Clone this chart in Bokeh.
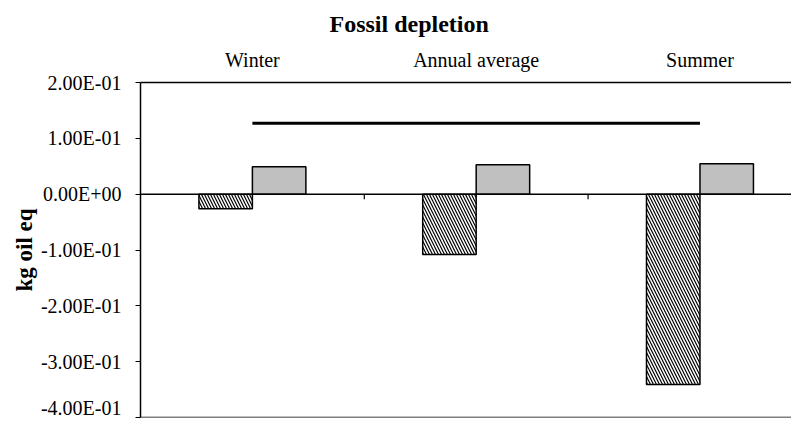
import numpy as np
from bokeh.plotting import figure
from bokeh.models import (Range1d, FixedTicker, Span, Title)
from bokeh.embed import file_html
from bokeh.resources import INLINE

# ---- data ----
categories = ["Winter", "Annual average", "Summer"]
hatched_values = [-0.026, -0.108, -0.341]
grey_values = [0.049, 0.0525, 0.0545]
line_values = [0.127, 0.127, 0.127]
y_ticks = [-0.4, -0.3, -0.2, -0.1, 0.0, 0.1, 0.2]
y_tick_labels = ["-4.00E-01", "-3.00E-01", "-2.00E-01", "-1.00E-01",
                 "0.00E+00", "1.00E-01", "2.00E-01"]
title_text = "Fossil depletion"
y_label = "kg oil eq"

FONT = "Liberation Serif"
idx = np.arange(len(categories))
bar_w = 0.239

p = figure(width=791, height=418, output_backend="svg", toolbar_location=None,
           x_range=Range1d(-0.5, 2.409), y_range=Range1d(-0.4, 0.2),
           x_axis_location="above", min_border_left=140, min_border_right=0,
           min_border_top=82, min_border_bottom=1)
p.background_fill_color = "white"
p.border_fill_color = "white"
p.outline_line_color = None
p.grid.visible = False

# title
p.title = Title(text=title_text, align="left", offset=189, standoff=17,
                text_font=FONT, text_font_size="24px", text_font_style="bold",
                text_color="black")

# top category axis
xa = p.xaxis[0]
xa.ticker = FixedTicker(ticks=list(idx))
xa.major_label_overrides = {int(i): c for i, c in zip(idx, categories)}
xa.major_tick_line_color = None
xa.minor_tick_line_color = None
xa.major_label_standoff = 6
xa.major_label_text_font = FONT
xa.major_label_text_font_size = "20px"
xa.major_label_text_color = "black"
xa.axis_line_color = "black"
xa.axis_line_width = 1.5

# y axis
ya = p.yaxis[0]
ya.ticker = FixedTicker(ticks=y_ticks)
ya.major_label_overrides = {t: l for t, l in zip(y_ticks, y_tick_labels)}
ya.major_tick_out = 5
ya.major_tick_in = 0
ya.minor_tick_line_color = None
ya.major_tick_line_color = "black"
ya.major_label_standoff = 14
ya.major_label_text_font = FONT
ya.major_label_text_font_size = "20px"
ya.major_label_text_color = "black"
ya.axis_line_color = "black"
ya.axis_line_width = 1.5
ya.axis_label = y_label
ya.axis_label_text_font = FONT
ya.axis_label_text_font_size = "23px"
ya.axis_label_text_font_style = "bold"
ya.axis_label_text_color = "black"
ya.axis_label_standoff = 1

# bottom plain line of the plot area
p.add_layout(Span(location=y_ticks[0], dimension="width", line_color="black",
                  line_width=1.5))

# bars
p.vbar(x=idx - bar_w / 2, top=0, bottom=hatched_values, width=bar_w,
       fill_color="white", line_color="black", line_width=1.5,
       hatch_pattern="\\", hatch_color="black", hatch_scale=6, hatch_weight=1.2)
p.vbar(x=idx + bar_w / 2, top=grey_values, bottom=0, width=bar_w,
       fill_color="#C0C0C0", line_color="black", line_width=1.5)

# zero line with category boundary ticks
p.add_layout(Span(location=0, dimension="width", line_color="black", line_width=1.5))
bounds = idx[:-1] + 0.5
p.segment(x0=bounds, y0=[0] * len(bounds), x1=bounds, y1=[-0.009] * len(bounds),
          line_color="black", line_width=1.2)

# line series
p.line(x=idx, y=line_values, line_color="black", line_width=3)

open("out.html", "w").write(file_html(p, INLINE))
